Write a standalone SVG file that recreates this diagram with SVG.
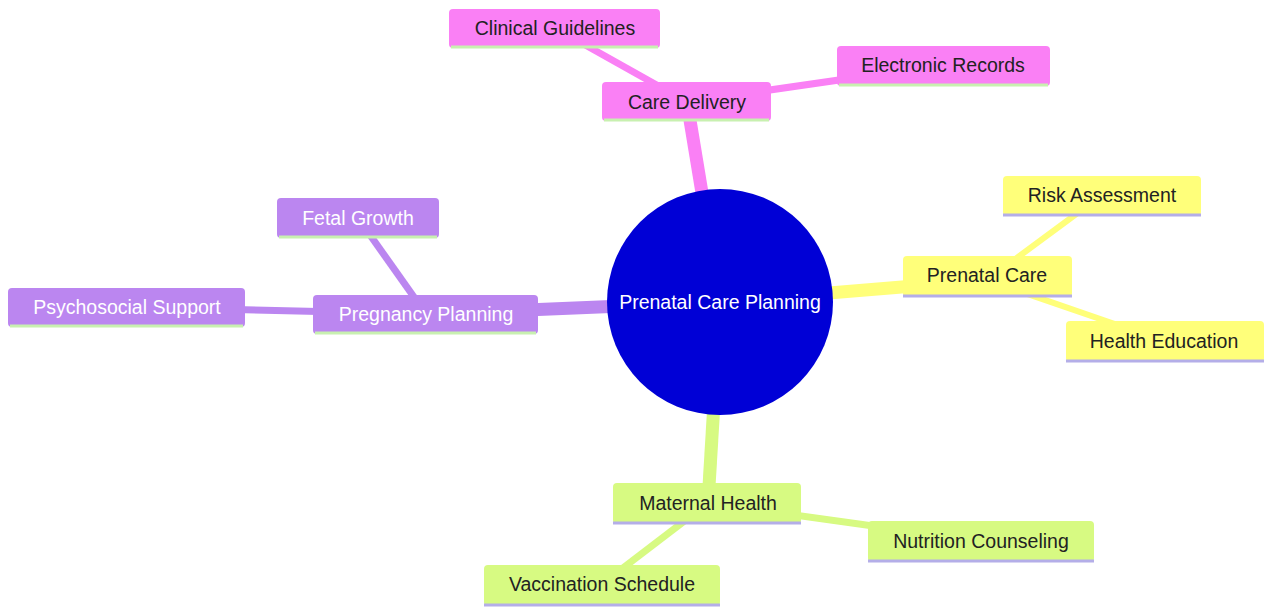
<svg xmlns="http://www.w3.org/2000/svg" width="1264" height="607" viewBox="0 0 1264 607">
<style>
text{font-family:"Liberation Sans",Arial,sans-serif;font-size:19.5px;text-anchor:middle;dominant-baseline:central}
.pk rect{fill:#fa80f5}
.yl rect{fill:#ffff7a}
.pu rect{fill:#bb86f0}
.gr rect{fill:#d7fa82}
.dk{fill:#222}
.wt{fill:#fff}
.ug{stroke:#c8f0b0;stroke-width:3}
.ul{stroke:#b4aee8;stroke-width:3}
#edges line{stroke-linecap:butt}
</style>
<rect width="1264" height="607" fill="#fff"/>
<g id="edges">
<line x1="720" y1="302" x2="687" y2="102" stroke="#fa80f5" stroke-width="13"/>
<line x1="720" y1="302" x2="987" y2="280" stroke="#ffff7a" stroke-width="13"/>
<line x1="720" y1="302" x2="426" y2="314" stroke="#bb86f0" stroke-width="13"/>
<line x1="720" y1="302" x2="708" y2="503" stroke="#d7fa82" stroke-width="13"/>
<line x1="555" y1="28" x2="687" y2="102" stroke="#fa80f5" stroke-width="7"/>
<line x1="943" y1="65" x2="687" y2="102" stroke="#fa80f5" stroke-width="7"/>
<line x1="1102" y1="195" x2="987" y2="280" stroke="#ffff7a" stroke-width="6"/>
<line x1="1164" y1="341" x2="987" y2="280" stroke="#ffff7a" stroke-width="6"/>
<line x1="358" y1="218" x2="426" y2="314" stroke="#bb86f0" stroke-width="7"/>
<line x1="127" y1="307" x2="426" y2="314" stroke="#bb86f0" stroke-width="7"/>
<line x1="981" y1="541" x2="708" y2="503" stroke="#d7fa82" stroke-width="7"/>
<line x1="602" y1="584" x2="708" y2="503" stroke="#d7fa82" stroke-width="7"/>
</g>
<g id="root">
<circle cx="720" cy="302" r="113" fill="#0000d6"/>
<text x="720" y="302" class="wt">Prenatal Care Planning</text>
</g>
<g id="care-delivery" class="pk">
<rect x="602" y="82" width="169" height="39" rx="4"/>
<line x1="604" y1="120" x2="769" y2="120" class="ug"/>
<text x="687" y="102" class="dk">Care Delivery</text>
</g>
<g id="clinical-guidelines" class="pk">
<rect x="449" y="9" width="211" height="39" rx="4"/>
<line x1="451" y1="47" x2="658" y2="47" class="ug"/>
<text x="555" y="28" class="dk">Clinical Guidelines</text>
</g>
<g id="electronic-records" class="pk">
<rect x="837" y="46" width="213" height="40" rx="4"/>
<line x1="839" y1="85" x2="1048" y2="85" class="ug"/>
<text x="943" y="65" class="dk">Electronic Records</text>
</g>
<g id="prenatal-care" class="yl">
<rect x="903" y="256" width="169" height="41" rx="4"/>
<line x1="903" y1="296" x2="1072" y2="296" class="ul"/>
<text x="987" y="275" class="dk">Prenatal Care</text>
</g>
<g id="risk-assessment" class="yl">
<rect x="1003" y="176" width="198" height="40" rx="4"/>
<line x1="1003" y1="215" x2="1201" y2="215" class="ul"/>
<text x="1102" y="195" class="dk">Risk Assessment</text>
</g>
<g id="health-education" class="yl">
<rect x="1066" y="321" width="198" height="41" rx="4"/>
<line x1="1066" y1="361" x2="1264" y2="361" class="ul"/>
<text x="1164" y="341" class="dk">Health Education</text>
</g>
<g id="pregnancy-planning" class="pu">
<rect x="313" y="295" width="225" height="39" rx="4"/>
<line x1="315" y1="333" x2="536" y2="333" class="ug"/>
<text x="426" y="314" class="wt">Pregnancy Planning</text>
</g>
<g id="fetal-growth" class="pu">
<rect x="277" y="198" width="162" height="40" rx="4"/>
<line x1="279" y1="237" x2="437" y2="237" class="ug"/>
<text x="358" y="218" class="wt">Fetal Growth</text>
</g>
<g id="psychosocial-support" class="pu">
<rect x="8" y="288" width="237" height="39" rx="4"/>
<line x1="10" y1="326" x2="243" y2="326" class="ug"/>
<text x="127" y="307" class="wt">Psychosocial Support</text>
</g>
<g id="maternal-health" class="gr">
<rect x="613" y="483" width="188" height="41" rx="4"/>
<line x1="613" y1="523" x2="801" y2="523" class="ul"/>
<text x="708" y="503" class="dk">Maternal Health</text>
</g>
<g id="nutrition-counseling" class="gr">
<rect x="868" y="521" width="226" height="41" rx="4"/>
<line x1="868" y1="561" x2="1094" y2="561" class="ul"/>
<text x="981" y="541" class="dk">Nutrition Counseling</text>
</g>
<g id="vaccination-schedule" class="gr">
<rect x="484" y="565" width="236" height="41" rx="4"/>
<line x1="484" y1="605" x2="720" y2="605" class="ul"/>
<text x="602" y="584" class="dk">Vaccination Schedule</text>
</g>
</svg>
